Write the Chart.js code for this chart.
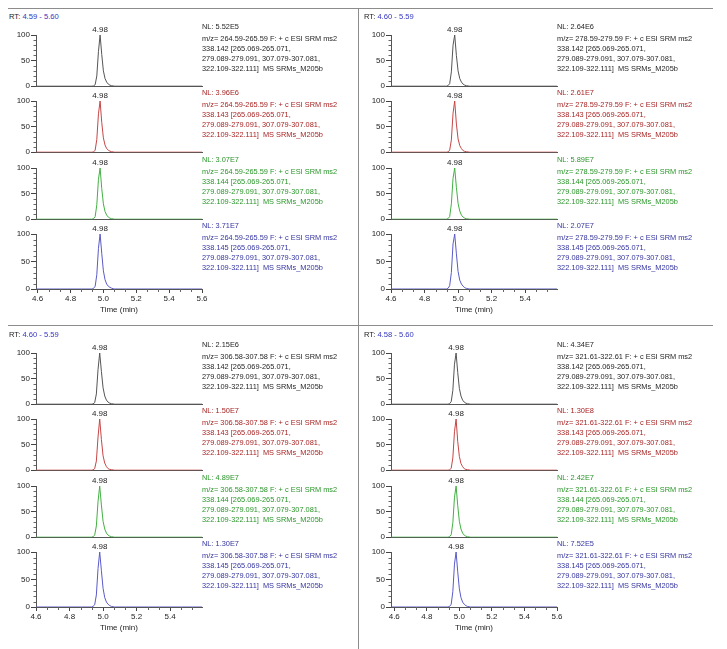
<!DOCTYPE html>
<html>
<head>
<meta charset="utf-8">
<script src="https://cdn.jsdelivr.net/npm/chart.js@4"></script>
<style>
  body { margin: 0; background: #fff; font-family: "Liberation Sans", Arial, sans-serif; }
  #root { position: relative; width: 727px; height: 649px; overflow: hidden; }
  .abs { position: absolute; }
  .rt { font-size: 7.6px; line-height: 10px; color: #222; white-space: nowrap; }
  .rt span { color: #3434c0; }
  .info { font-size: 7.4px; line-height: 10px; white-space: nowrap; }
  .rule { position: absolute; background: #8c8c8c; }
</style>
</head>
<body>
<div id="root"></div>
<script>
// retention time grid shared by every trace (min)
const times = [4.58, 4.93, 4.94, 4.95, 4.96, 4.97, 4.98, 4.99, 5.00, 5.01, 5.02, 5.03, 5.04, 5.05, 5.06, 5.07, 5.60]

// relative abundance, one row per trace (black, red, green, blue)
const panel1 = [
  [0, 0, 0.5, 3, 20, 68, 100, 62, 30, 15, 8, 4, 2, 1, 0.5, 0, 0],
  [0, 0, 0.5, 4, 25, 75, 100, 58, 28, 14, 7, 4, 2, 1, 0.5, 0, 0],
  [0, 0, 1, 5, 28, 78, 100, 60, 30, 15, 8, 4, 2, 1, 0.5, 0, 0],
  [0, 0, 1, 5, 26, 74, 100, 65, 33, 17, 9, 5, 3, 1.5, 0.5, 0, 0]
]
const panel2 = [
  [0, 0, 1, 5, 28, 80, 100, 60, 30, 15, 8, 4, 2, 1, 0.5, 0, 0],
  [0, 0, 0.5, 4, 24, 76, 100, 55, 26, 13, 7, 3, 1.5, 1, 0.5, 0, 0],
  [0, 0, 1, 5, 30, 80, 100, 62, 31, 16, 8, 4, 2, 1, 0.5, 0, 0],
  [0, 0, 1, 6, 30, 82, 100, 64, 32, 16, 9, 5, 2.5, 1, 0.5, 0, 0]
]
const panel3 = [
  [0, 0, 0.5, 3, 20, 68, 100, 64, 32, 16, 8, 4, 2, 1, 0.5, 0, 0],
  [0, 0, 0.5, 3, 18, 65, 100, 60, 28, 14, 7, 3, 1.5, 1, 0.5, 0, 0],
  [0, 0, 1, 4, 22, 70, 100, 63, 31, 16, 8, 4, 2, 1, 0.5, 0, 0],
  [0, 0, 1, 4, 22, 70, 100, 66, 34, 17, 9, 5, 2.5, 1, 0.5, 0, 0]
]
const panel4 = [
  [0, 0, 1, 5, 27, 78, 100, 62, 31, 16, 8, 4, 2, 1, 0.5, 0, 0],
  [0, 0, 0.5, 4, 24, 75, 100, 56, 27, 13, 7, 3, 1.5, 1, 0.5, 0, 0],
  [0, 0, 1, 5, 28, 78, 100, 62, 31, 16, 8, 4, 2, 1, 0.5, 0, 0],
  [0, 0, 1, 5, 28, 78, 100, 64, 33, 17, 9, 5, 2.5, 1, 0.5, 0, 0]
]
const panelData = [panel1, panel2, panel3, panel4]

const rtRanges = ["4.59 - 5.60", "4.60 - 5.59", "4.60 - 5.59", "4.58 - 5.60"]
const xMins = [4.59, 4.60, 4.60, 4.58]
const xMaxs = [5.60, 5.59, 5.59, 5.60]
const mzRanges = ["264.59-265.59", "278.59-279.59", "306.58-307.58", "321.61-322.61"]
const nlValues = [
  ["5.52E5", "3.96E6", "3.07E7", "3.71E7"],
  ["2.64E6", "2.61E7", "5.89E7", "2.07E7"],
  ["2.15E6", "1.50E7", "4.89E7", "1.30E7"],
  ["4.34E7", "1.30E8", "2.42E7", "7.52E5"]
]
const precursors = ["338.142", "338.143", "338.144", "338.145"]
const xTickLabels = [4.6, 4.8, 5.0, 5.2, 5.4, 5.6]
const yTickLabels = [0, 50, 100]

const traceColors = ["#555555", "#c64646", "#43b043", "#5a5ac8"]
const textColors = ["#1e1e1e", "#a82424", "#2a962a", "#3434a0"]

const FONT = '"Liberation Sans", Arial, sans-serif'
Chart.defaults.font.family = FONT
Chart.defaults.font.size = 8

const root = document.getElementById("root")

// frame lines
function rule(l, t, w, h) {
  const d = document.createElement("div")
  d.className = "rule"
  d.style.cssText = `left:${l}px;top:${t}px;width:${w}px;height:${h}px`
  root.appendChild(d)
}
rule(8, 8, 705, 1)
rule(358, 8, 1, 641)
rule(8, 325, 705, 1)

// short minor ticks on both axes, placed through the chart's own scales
const minorTicks = {
  id: "minorTicks",
  afterDraw(chart, args, opts) {
    const { ctx, scales: { x, y } } = chart
    ctx.save()
    ctx.strokeStyle = "#666"
    ctx.lineWidth = 1
    ctx.beginPath()
    for (let v = 10; v < 100; v += 10) {
      if (v === 50) continue
      const py = Math.round(y.getPixelForValue(v)) + 0.5
      ctx.moveTo(y.right - 2.5, py)
      ctx.lineTo(y.right, py)
    }
    if (opts.bottom) {
      const step = 0.2 / 3
      for (let m = xTickLabels[0] - 0.2; m <= x.max; m += 0.2) {
        for (let j = 1; j < 3; j++) {
          const v = m + j * step
          if (v < x.min || v > x.max) continue
          const px = Math.round(x.getPixelForValue(v)) + 0.5
          ctx.moveTo(px, x.top)
          ctx.lineTo(px, x.top + 3)
        }
      }
    }
    ctx.stroke()
    ctx.restore()
  }
}

// apex retention time written above each peak
const apexLabel = {
  id: "apexLabel",
  afterDatasetsDraw(chart) {
    const ds = chart.data.datasets[0]
    let idx = 0
    ds.data.forEach((p, i) => { if (p.y > ds.data[idx].y) idx = i })
    const pt = chart.getDatasetMeta(0).data[idx]
    const { ctx } = chart
    ctx.save()
    ctx.font = "8px " + FONT
    ctx.fillStyle = "#1e1e1e"
    ctx.textAlign = "center"
    ctx.textBaseline = "bottom"
    ctx.fillText(ds.data[idx].x.toFixed(2), pt.x, pt.y - 1)
    ctx.restore()
  }
}

const top100 = [35, 101, 168, 234]
const panelX = [0, 355, 0, 355]
const panelY = [0, 0, 318, 318]

panelData.forEach((traces, p) => {
  const ox = panelX[p], oy = panelY[p]

  const rt = document.createElement("div")
  rt.className = "abs rt"
  rt.style.left = (ox + 9) + "px"
  rt.style.top = (oy + 12) + "px"
  rt.innerHTML = `RT: <span>${rtRanges[p]}</span>`
  root.appendChild(rt)

  traces.forEach((vals, k) => {
    const bottom = k === 3
    const canvas = document.createElement("canvas")
    const h = bottom ? 97 : 71
    canvas.width = 214
    canvas.height = h
    canvas.className = "abs"
    canvas.style.left = ox + "px"
    canvas.style.top = (oy + top100[k] - 14) + "px"
    root.appendChild(canvas)

    const nl = document.createElement("div")
    nl.className = "abs info"
    nl.style.color = textColors[k]
    nl.style.left = (ox + 202) + "px"
    nl.style.top = (oy + top100[k] - 13) + "px"
    nl.textContent = "NL: " + nlValues[p][k]
    root.appendChild(nl)

    const desc = document.createElement("div")
    desc.className = "abs info"
    desc.style.color = textColors[k]
    desc.style.left = (ox + 202) + "px"
    desc.style.top = (oy + top100[k] - 1) + "px"
    desc.innerHTML = `m/z= ${mzRanges[p]} F: + c ESI SRM ms2<br>${precursors[k]} [265.069-265.071,<br>` +
      `279.089-279.091, 307.079-307.081,<br>322.109-322.111]&nbsp; MS SRMs_M205b`
    root.appendChild(desc)

    const xmin = xMins[p], xmax = xMaxs[p]
    new Chart(canvas, {
      type: "line",
      data: {
        datasets: [{
          data: times.map((t, i) => ({ x: t, y: vals[i] })),
          borderColor: traceColors[k],
          borderWidth: 1,
          pointRadius: 0,
          tension: 0
        }]
      },
      options: {
        animation: false,
        responsive: false,
        events: [],
        layout: { padding: { top: 14, right: 12, bottom: bottom ? 0 : 2, left: 0 } },
        plugins: {
          legend: { display: false },
          tooltip: { enabled: false },
          minorTicks: { bottom }
        },
        scales: {
          x: {
            type: "linear",
            min: xmin,
            max: xmax,
            afterBuildTicks: s => {
              s.ticks = xTickLabels.filter(v => v >= xmin - 1e-9 && v <= xmax + 1e-9).map(v => ({ value: v }))
            },
            afterFit: s => { s.height = bottom ? 28 : 0 },
            grid: { drawOnChartArea: false, drawTicks: bottom, tickLength: 4, color: "#444" },
            border: { color: "#555" },
            ticks: {
              display: bottom,
              padding: 1,
              color: "#1e1e1e",
              maxRotation: 0,
              autoSkip: false,
              callback: v => v.toFixed(1)
            },
            title: {
              display: bottom,
              text: "Time (min)",
              color: "#1e1e1e",
              padding: { top: 0, bottom: 2.7 }
            }
          },
          y: {
            min: 0,
            max: 100,
            afterBuildTicks: s => { s.ticks = yTickLabels.map(v => ({ value: v })) },
            afterFit: s => { s.width = 36 },
            grid: { drawOnChartArea: false, tickLength: 5, color: "#444" },
            border: { color: "#555" },
            ticks: { padding: 1, color: "#1e1e1e" }
          }
        }
      },
      plugins: [minorTicks, apexLabel]
    })
  })
})
</script>
</body>
</html>
